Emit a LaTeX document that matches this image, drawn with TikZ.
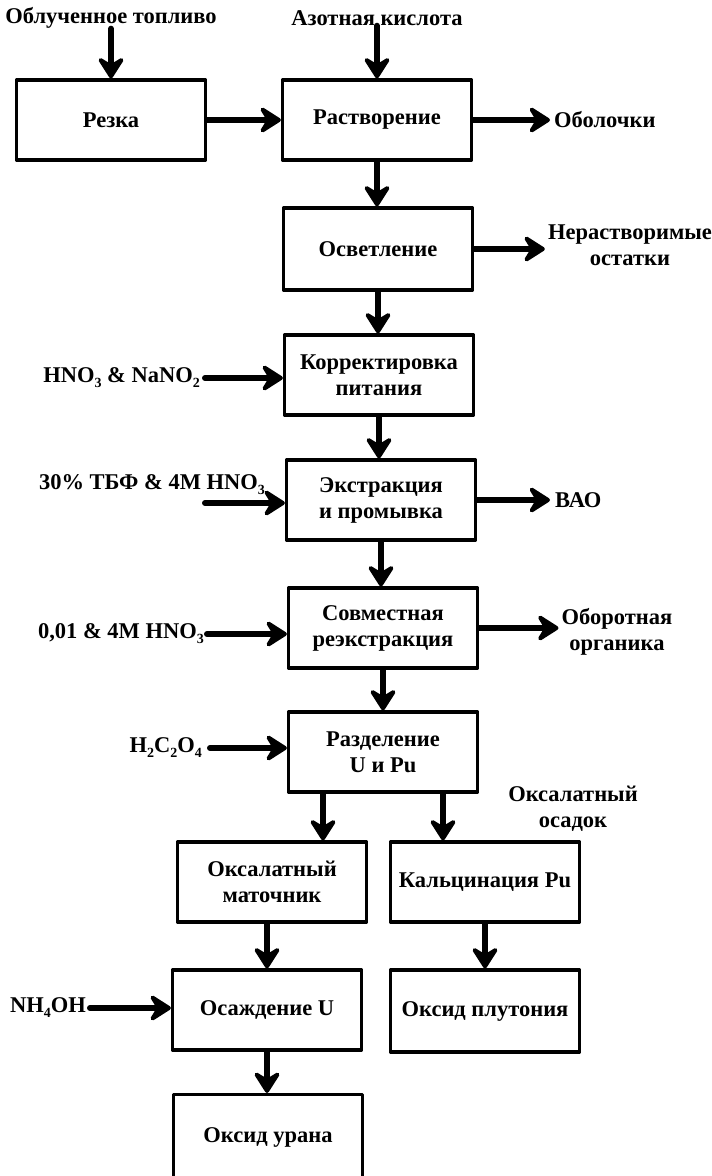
\documentclass[tikz,border=0pt]{standalone}
\usepackage{fontspec}
\setmainfont{Liberation Serif}
\usetikzlibrary{arrows.meta}

% индекс в химических формулах
\newcommand{\ind}[1]{\raisebox{-5pt}{\fontsize{14}{14}\selectfont #1}}

\begin{document}
\begin{tikzpicture}[
  x=1pt,
  y=-1pt,
  line cap=round,
  line join=round,
  every node/.style={font=\fontsize{22.5}{26}\selectfont\bfseries, align=center, inner sep=0pt},
  stage/.style={draw, line width=3.2pt, minimum width=189pt, minimum height=80pt},
  flow/.style={line width=6pt, -{Stealth[length=26pt,width=33pt,inset=10pt,round]}}
]
  \useasboundingbox (0,0) rectangle (712,1176);

  % Стадии основной цепочки
  \node[stage] (rez)  at (111,120)   {Резка};
  \node[stage] (rast) at (377,120)   {Растворение};
  \node[stage] (osv)  at (378,249)   [minimum height=82pt] {Осветление};
  \node[stage] (korr) at (379,375)   {Корректировка\\питания};
  \node[stage] (ekstr) at (381,500)  {Экстракция\\и промывка};
  \node[stage] (sovm) at (383,628)   {Совместная\\реэкстракция};
  \node[stage] (razd) at (383,752)   {Разделение\\U и Pu};

  % Ветви урана и плутония
  \node[stage] (matoch) at (272,882) {Оксалатный\\маточник};
  \node[stage] (kalc)   at (485,882) {Кальцинация Pu};
  \node[stage] (osazh)  at (267,1010) {Осаждение U};
  \node[stage] (oksPu)  at (485,1011) [minimum height=82pt] {Оксид плутония};
  \node[stage] (oksU)   at (268,1137) [minimum height=85pt] {Оксид урана};

  % Входные потоки
  \node (fuel) at (111,18) {Облученное топливо};
  \node (acid) at (377,18) {Азотная кислота};
  \node[anchor=east] (hno)   at (200,378) {HNO\ind{3} \& NaNO\ind{2}};
  \node (tbf) at (152,485) {30\% ТБФ \& 4М HNO\ind{3}};
  \coordinate (tbfin) at (205,503);
  \node[anchor=east] (strip) at (204,634) {0,01 \& 4M HNO\ind{3}};
  \node[anchor=east] (oxal)  at (202,748) {H\ind{2}C\ind{2}O\ind{4}};
  \node[anchor=east] (nh)    at (86,1008) {NH\ind{4}OH};

  % Выходные потоки
  \node[anchor=west] (shells) at (554,120) {Оболочки};
  \node (insol) at (630,245) {Нерастворимые\\остатки};
  \node[anchor=west] (vao) at (555,500) {ВАО};
  \node (org) at (617,632) {Оборотная\\органика};
  \node (sediment) at (573,809) {Оксалатный\\осадок};

  % Стрелки сверху вниз
  \draw[flow] (fuel) -- (rez);
  \draw[flow] (acid) -- (rast);
  \draw[flow] (rez) -- (rast);
  \draw[flow] (rast.south) -- (rast.south |- osv.north);
  \draw[flow] (osv.south) -- (osv.south |- korr.north);
  \draw[flow] (korr.south) -- (korr.south |- ekstr.north);
  \draw[flow] (ekstr.south) -- (ekstr.south |- sovm.north);
  \draw[flow] (sovm) -- (razd);
  \draw[flow] ([xshift=-60pt]razd.south) -- ([xshift=-60pt]razd.south |- matoch.north);
  \draw[flow] ([xshift=60pt]razd.south) -- ([xshift=60pt]razd.south |- kalc.north);
  \draw[flow] (osazh.north |- matoch.south) -- (osazh.north);
  \draw[flow] (kalc) -- (oksPu);
  \draw[flow] (osazh.south) -- (osazh.south |- oksU.north);

  % Подача реагентов
  \draw[flow] ([xshift=5pt]hno.east) -- (hno.east -| korr.west);
  \draw[flow] (tbfin) -- (tbfin -| ekstr.west);
  \draw[flow] ([xshift=3pt]strip.east) -- (strip.east -| sovm.west);
  \draw[flow] ([xshift=8pt]oxal.east) -- (oxal.east -| razd.west);
  \draw[flow] ([xshift=4pt]nh.east) -- (nh.east -| osazh.west);

  % Отходы и продукты
  \draw[flow] (rast) -- ([xshift=-4pt]shells.west);
  \draw[flow] (osv.east) -- ([xshift=-3pt]osv.east -| insol.west);
  \draw[flow] (ekstr) -- ([xshift=-5pt]vao.west);
  \draw[flow] (sovm.east) -- ([xshift=-3pt]sovm.east -| org.west);
\end{tikzpicture}
\end{document}
